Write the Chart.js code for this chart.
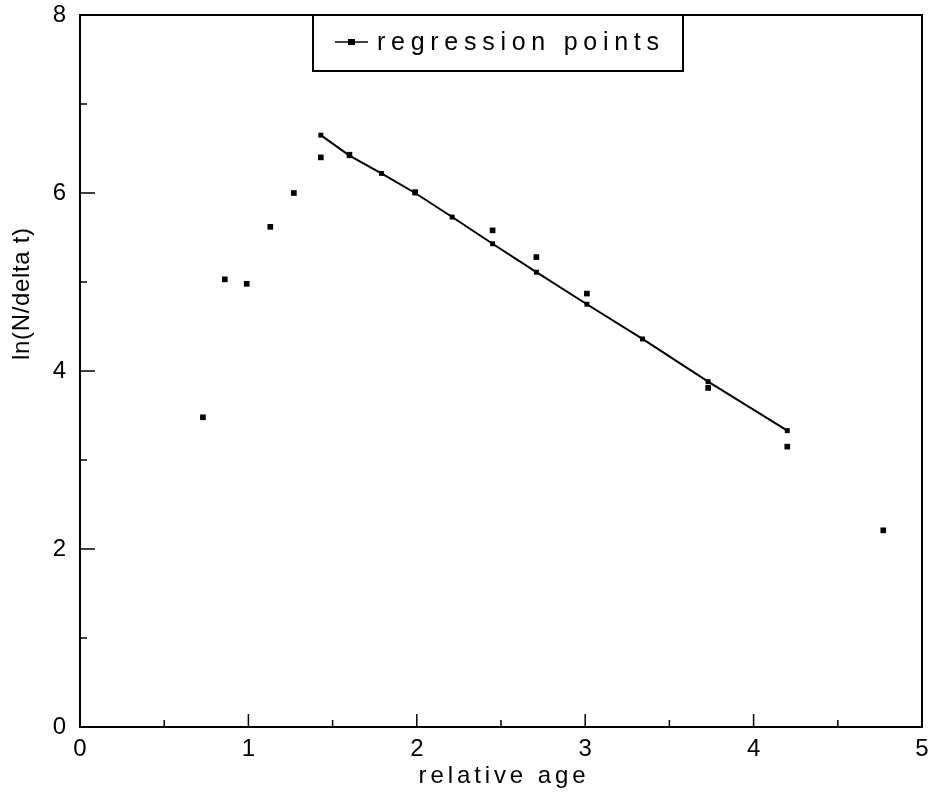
<!DOCTYPE html>
<html><head><meta charset="utf-8">
<script src="https://cdn.jsdelivr.net/npm/chart.js@4.4.1/dist/chart.umd.min.js"></script>
<style>html,body{margin:0;padding:0;background:#fff;} #wrap{width:931px;height:807px;position:relative}</style>
</head><body><div id="wrap"><canvas id="c" width="931" height="807"></canvas></div>
<script>
// fitted regression points (line with markers)
const regAge = [1.43, 1.60, 1.79, 1.99, 2.21, 2.45, 2.71, 3.01, 3.34, 3.73, 4.20];
const regLn  = [6.65, 6.42, 6.22, 6.00, 5.73, 5.43, 5.11, 4.75, 4.36, 3.88, 3.33];
// observed points (markers only)
const obsAge = [0.73, 0.86, 0.99, 1.13, 1.27, 1.43, 1.60, 1.99, 2.45, 2.71, 3.01, 3.73, 4.20, 4.77];
const obsLn  = [3.48, 5.03, 4.98, 5.62, 6.00, 6.40, 6.43, 6.01, 5.58, 5.28, 4.87, 3.81, 3.15, 2.21];
const xTicks = [0, 1, 2, 3, 4, 5];
const yTicks = [0, 2, 4, 6, 8];
const xMinorTicks = [0.5, 1.5, 2.5, 3.5, 4.5];
const yMinorTicks = [1, 3, 5, 7];
const seriesName = 'regression points';
const xTitle = 'relative age';
const yTitle = 'ln(N/delta t)';

const FONT = '"Liberation Sans", Arial, Helvetica, sans-serif';

function spacedText(ctx, text, cx, cy, targetW) {
  ctx.letterSpacing = '0px';
  const w0 = ctx.measureText(text).width;
  const sp = Math.max(0, (targetW - w0) / (text.length - 1));
  ctx.letterSpacing = sp + 'px';
  const w = w0 + sp * (text.length - 1);
  ctx.textAlign = 'left';
  ctx.textBaseline = 'middle';
  ctx.fillText(text, cx - w / 2, cy);
  ctx.letterSpacing = '0px';
}

const framePlugin = {
  id: 'frame',
  afterDraw(chart) {
    const ctx = chart.ctx;
    const a = chart.chartArea;
    const xs = chart.scales.x, ys = chart.scales.y;
    ctx.save();
    ctx.strokeStyle = '#000';
    ctx.lineWidth = 2;
    // top and right border
    ctx.beginPath();
    ctx.moveTo(a.left, a.top); ctx.lineTo(a.right, a.top); ctx.lineTo(a.right, a.bottom);
    ctx.stroke();
    // inside ticks
    ctx.lineWidth = 1.5;
    ctx.beginPath();
    xTicks.slice(1, -1).forEach(v => { const p = xs.getPixelForValue(v); ctx.moveTo(p, a.bottom); ctx.lineTo(p, a.bottom - 13); });
    xMinorTicks.forEach(v => { const p = xs.getPixelForValue(v); ctx.moveTo(p, a.bottom); ctx.lineTo(p, a.bottom - 7); });
    yTicks.slice(1, -1).forEach(v => { const p = ys.getPixelForValue(v); ctx.moveTo(a.left, p); ctx.lineTo(a.left + 15, p); });
    yMinorTicks.forEach(v => { const p = ys.getPixelForValue(v); ctx.moveTo(a.left, p); ctx.lineTo(a.left + 7, p); });
    ctx.stroke();
    // legend box
    const bx = 313, by = a.top, bw = 370, bh = 56;
    ctx.fillStyle = '#fff';
    ctx.fillRect(bx, by, bw, bh);
    ctx.lineWidth = 2;
    ctx.strokeRect(bx, by, bw, bh);
    ctx.lineWidth = 1.5;
    ctx.beginPath(); ctx.moveTo(335, by + 27); ctx.lineTo(368, by + 27); ctx.stroke();
    ctx.fillStyle = '#000';
    ctx.fillRect(348, by + 24, 7, 6);
    ctx.font = '25px ' + FONT;
    spacedText(ctx, seriesName, 377 + 141, by + 28, 282);
    // axis titles
    ctx.font = '24px ' + FONT;
    spacedText(ctx, xTitle, (a.left + a.right) / 2 + 1, 776, 167);
    ctx.translate(22, 294);
    ctx.rotate(-Math.PI / 2);
    spacedText(ctx, yTitle, 0, 0, 132);
    ctx.restore();
  }
};

new Chart(document.getElementById('c'), {
  type: 'scatter',
  data: {
    datasets: [
      {
        label: seriesName,
        data: regAge.map((x, i) => ({ x, y: regLn[i] })),
        showLine: true,
        borderColor: '#000',
        borderWidth: 2,
        backgroundColor: '#000',
        pointStyle: 'rect',
        pointRadius: 3.5,
        pointBorderWidth: 0,
        order: 1
      },
      {
        label: 'observed',
        data: obsAge.map((x, i) => ({ x, y: obsLn[i] })),
        showLine: false,
        borderColor: '#000',
        backgroundColor: '#000',
        pointStyle: 'rect',
        pointRadius: 4,
        pointBorderWidth: 0,
        order: 2
      }
    ]
  },
  options: {
    responsive: false,
    animation: false,
    devicePixelRatio: 1,
    layout: { padding: { top: 15, right: 9, left: 0, bottom: 0 } },
    plugins: { legend: { display: false }, tooltip: { enabled: false } },
    scales: {
      x: {
        type: 'linear', min: 0, max: 5,
        afterBuildTicks: s => { s.ticks = xTicks.map(v => ({ value: v })); },
        afterFit: s => { s.height = 80; s.paddingLeft = 0; s.paddingRight = 0; },
        grid: { display: false, drawTicks: false },
        border: { display: true, color: '#000', width: 2 },
        ticks: { color: '#000', font: { family: FONT, size: 24 }, padding: 8, maxRotation: 0, autoSkip: false }
      },
      y: {
        type: 'linear', min: 0, max: 8,
        afterBuildTicks: s => { s.ticks = yTicks.map(v => ({ value: v })); },
        afterFit: s => { s.width = 80; s.paddingTop = 0; s.paddingBottom = 0; },
        grid: { display: false, drawTicks: false },
        border: { display: true, color: '#000', width: 2 },
        ticks: { color: '#000', font: { family: FONT, size: 24 }, padding: 14, autoSkip: false }
      }
    }
  },
  plugins: [framePlugin]
});
</script>
</body></html>
